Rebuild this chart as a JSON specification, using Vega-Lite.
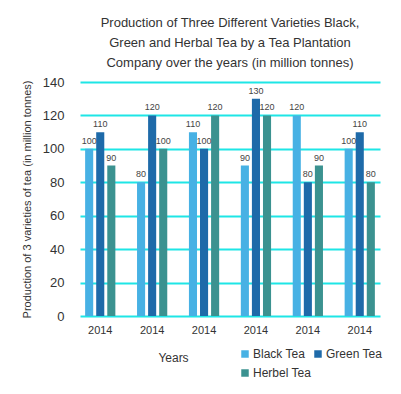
{
  "$schema": "https://vega.github.io/schema/vega-lite/v6.json",
  "width": 300,
  "height": 234,
  "autosize": {"type": "none"},
  "padding": {"left": 80, "top": 82, "right": 21, "bottom": 78},
  "background": "white",
  "title": {
    "text": ["Production of Three Different Varieties Black,", "Green and Herbal Tea by a Tea Plantation", "Company over the years (in million tonnes)"],
    "font": "Liberation Sans",
    "fontSize": 13,
    "fontWeight": "normal",
    "color": "#333333",
    "lineHeight": 20,
    "anchor": "middle",
    "offset": 6
  },
  "config": {
    "view": {"stroke": null},
    "font": "Liberation Sans"
  },
  "data": {
    "values": [
      {"group": 1, "year": "2014", "variety": "Black Tea", "value": 100},
      {"group": 1, "year": "2014", "variety": "Green Tea", "value": 110},
      {"group": 1, "year": "2014", "variety": "Herbel Tea", "value": 90},
      {"group": 2, "year": "2014", "variety": "Black Tea", "value": 80},
      {"group": 2, "year": "2014", "variety": "Green Tea", "value": 120},
      {"group": 2, "year": "2014", "variety": "Herbel Tea", "value": 100},
      {"group": 3, "year": "2014", "variety": "Black Tea", "value": 110},
      {"group": 3, "year": "2014", "variety": "Green Tea", "value": 100},
      {"group": 3, "year": "2014", "variety": "Herbel Tea", "value": 120},
      {"group": 4, "year": "2014", "variety": "Black Tea", "value": 90},
      {"group": 4, "year": "2014", "variety": "Green Tea", "value": 130},
      {"group": 4, "year": "2014", "variety": "Herbel Tea", "value": 120},
      {"group": 5, "year": "2014", "variety": "Black Tea", "value": 120},
      {"group": 5, "year": "2014", "variety": "Green Tea", "value": 80},
      {"group": 5, "year": "2014", "variety": "Herbel Tea", "value": 90},
      {"group": 6, "year": "2014", "variety": "Black Tea", "value": 100},
      {"group": 6, "year": "2014", "variety": "Green Tea", "value": 110},
      {"group": 6, "year": "2014", "variety": "Herbel Tea", "value": 80}
    ]
  },
  "encoding": {
    "x": {
      "field": "group",
      "type": "ordinal",
      "scale": {"paddingInner": 0.36, "paddingOuter": 0.07},
      "axis": {
        "title": "Years",
        "labelExpr": "'2014'",
        "labelAngle": 0,
        "labelFont": "Liberation Sans",
        "labelFontSize": 11,
        "labelColor": "#333333",
        "labelPadding": 8,
        "ticks": false,
        "domain": false,
        "titleFont": "Liberation Sans",
        "titleFontSize": 12,
        "titleFontWeight": "normal",
        "titleColor": "#333333",
        "titleX": 93,
        "titleY": 41,
        "titleBaseline": "middle",
        "titleAnchor": null
      }
    },
    "xOffset": {
      "field": "variety",
      "type": "nominal",
      "scale": {"paddingInner": 0.27, "paddingOuter": 0.135}
    },
    "y": {
      "field": "value",
      "type": "quantitative",
      "scale": {"domain": [0, 140]},
      "axis": {
        "title": "Production of 3 varieties of tea (in million tonnes)",
        "values": [0, 20, 40, 60, 80, 100, 120, 140],
        "labelFont": "Liberation Sans",
        "labelFontSize": 13,
        "labelColor": "#333333",
        "labelPadding": 16,
        "ticks": false,
        "domain": false,
        "grid": true,
        "gridColor": "#1ee6e6",
        "gridWidth": 2,
        "titleFont": "Liberation Sans",
        "titleFontSize": 11,
        "titleFontWeight": "normal",
        "titleColor": "#333333",
        "titlePadding": 10
      }
    }
  },
  "layer": [
    {
      "mark": {"type": "bar"},
      "encoding": {
        "color": {
          "field": "variety",
          "type": "nominal",
          "scale": {"domain": ["Black Tea", "Green Tea", "Herbel Tea"], "range": ["#47b1e4", "#1e6aa9", "#3b9290"]},
          "legend": {
            "title": null,
            "orient": "none",
            "legendX": 159,
            "legendY": 266,
            "direction": "horizontal",
            "columns": 2,
            "columnPadding": -6,
            "rowPadding": 7,
            "symbolType": "square",
            "symbolSize": 56,
            "symbolStrokeWidth": 0,
            "labelFont": "Liberation Sans",
            "labelFontSize": 12,
            "labelColor": "#333333",
            "labelOffset": 2
          }
        }
      }
    },
    {
      "mark": {"type": "text", "baseline": "bottom", "dy": -3, "fontSize": 9, "color": "#444444", "font": "Liberation Sans"},
      "encoding": {
        "text": {"field": "value", "type": "quantitative"}
      }
    }
  ]
}
